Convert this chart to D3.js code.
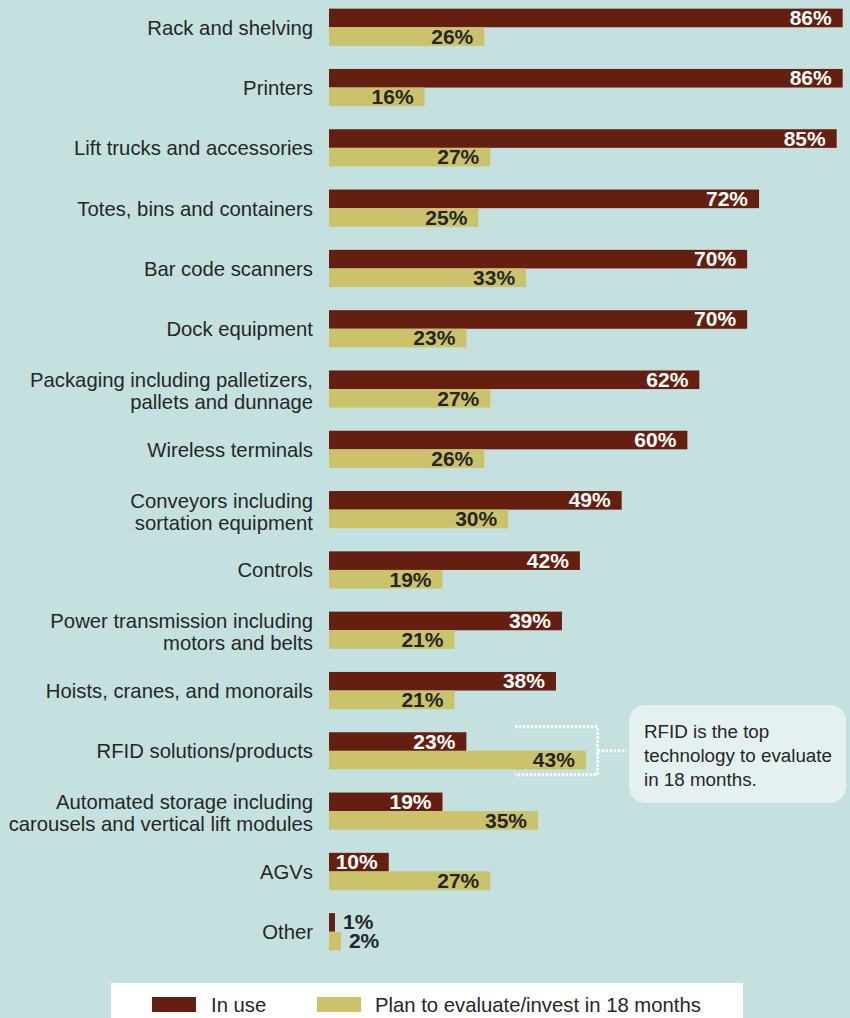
<!DOCTYPE html>
<html>
<head>
<meta charset="utf-8">
<script src="https://cdn.jsdelivr.net/npm/d3@7"></script>
<style>
  body { margin: 0; background: #c5e1df; }
  svg { display: block; }
</style>
</head>
<body>
<div id="chart"></div>
<script>
// Data
const categories = [
  ['Rack and shelving'],
  ['Printers'],
  ['Lift trucks and accessories'],
  ['Totes, bins and containers'],
  ['Bar code scanners'],
  ['Dock equipment'],
  ['Packaging including palletizers,', 'pallets and dunnage'],
  ['Wireless terminals'],
  ['Conveyors including', 'sortation equipment'],
  ['Controls'],
  ['Power transmission including', 'motors and belts'],
  ['Hoists, cranes, and monorails'],
  ['RFID solutions/products'],
  ['Automated storage including', 'carousels and vertical lift modules'],
  ['AGVs'],
  ['Other']
];
const inUse = [86, 86, 85, 72, 70, 70, 62, 60, 49, 42, 39, 38, 23, 19, 10, 1];
const planToEvaluate = [26, 16, 27, 25, 33, 23, 27, 26, 30, 19, 21, 21, 43, 35, 27, 2];
const seriesNames = ['In use', 'Plan to evaluate/invest in 18 months'];
const calloutLines = ['RFID is the top', 'technology to evaluate', 'in 18 months.'];

const width = 850, height = 1018;
const colorInUse = '#641f10';
const colorPlan = '#cbc36c';
const textColor = '#262626';

const svg = d3.select('#chart').append('svg')
  .attr('width', width)
  .attr('height', height)
  .style('font-family', '"Liberation Sans", Arial, Helvetica, sans-serif');

svg.append('rect').attr('width', width).attr('height', height).attr('fill', '#c5e1df');

const keys = categories.map((c, i) => i);
const x = d3.scaleLinear().domain([0, 100]).range([329, 329 + 597.3]);
const y = d3.scaleBand().domain(keys).range([-2.9, -2.9 + 16 * 60.3]);
const rowCenter = i => y(i) + y.bandwidth() / 2;
const barH = 18.6;

const rows = svg.append('g').selectAll('g')
  .data(keys)
  .join('g')
  .attr('transform', i => `translate(0,${rowCenter(i)})`);

// Category labels
rows.append('text')
  .attr('x', 313)
  .attr('text-anchor', 'end')
  .attr('font-size', '20.3px')
  .attr('fill', textColor)
  .each(function(i) {
    const lines = categories[i];
    const t = d3.select(this);
    const y0 = lines.length === 1 ? 7.5 : -2;
    lines.forEach((line, k) => {
      t.append('tspan').attr('x', 313).attr('y', y0 + k * 22).text(line);
    });
  });

// In use bars
rows.append('rect')
  .attr('x', x(0))
  .attr('y', -barH)
  .attr('width', i => x(inUse[i]) - x(0))
  .attr('height', barH)
  .attr('fill', colorInUse);

// Plan bars
rows.append('rect')
  .attr('x', x(0))
  .attr('y', 0)
  .attr('width', i => x(planToEvaluate[i]) - x(0))
  .attr('height', barH)
  .attr('fill', colorPlan);

// Value labels
function valueLabel(values, yOff, inside) {
  rows.append('text')
    .attr('font-size', '21px')
    .attr('font-weight', 'bold')
    .attr('y', yOff)
    .attr('x', i => values[i] < 5 ? x(values[i]) + 8 : x(values[i]) - 11)
    .attr('text-anchor', i => values[i] < 5 ? 'start' : 'end')
    .attr('fill', i => values[i] < 5 ? textColor : inside)
    .text(i => values[i] + '%');
}
valueLabel(inUse, -2.3, '#ffffff');
valueLabel(planToEvaluate, 16.6, textColor);

// Callout
const ci = 12;
const cy = rowCenter(ci);
const dotted = svg.append('g')
  .attr('fill', 'none')
  .attr('stroke', '#ffffff')
  .attr('stroke-width', 3)
  .attr('stroke-dasharray', '2.5,1.5');
dotted.append('path')
  .attr('d', `M515,${cy - 24} H597.5 V${cy + 24} H515`);
dotted.append('path')
  .attr('d', `M597.5,${cy} H626`);

svg.append('rect')
  .attr('x', 629).attr('y', 705)
  .attr('width', 217).attr('height', 98)
  .attr('rx', 16)
  .attr('fill', '#e5f1f0');

svg.append('g').selectAll('text')
  .data(calloutLines)
  .join('text')
  .attr('x', 644)
  .attr('y', (d, k) => 738 + k * 24)
  .attr('font-size', '18.8px')
  .attr('fill', textColor)
  .text(d => d);

// Legend
const legend = svg.append('g');
legend.append('rect')
  .attr('x', 111).attr('y', 983)
  .attr('width', 632).attr('height', 40)
  .attr('fill', '#ffffff');
const legendItems = [
  { name: seriesNames[0], color: colorInUse, sx: 152, tx: 211 },
  { name: seriesNames[1], color: colorPlan, sx: 317, tx: 375 }
];
legendItems.forEach(d => {
  legend.append('rect')
    .attr('x', d.sx).attr('y', 997)
    .attr('width', 44).attr('height', 15)
    .attr('fill', d.color);
  legend.append('text')
    .attr('x', d.tx).attr('y', 1011.5)
    .attr('font-size', '20.3px')
    .attr('fill', textColor)
    .text(d.name);
});
</script>
</body>
</html>
